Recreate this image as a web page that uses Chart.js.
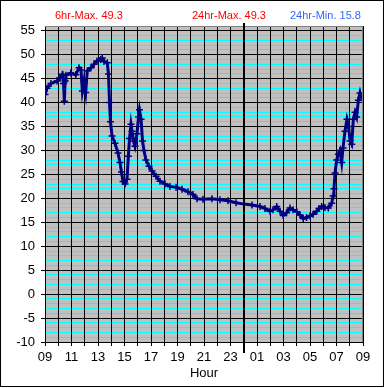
<!DOCTYPE html>
<html lang="en">
<head>
  <meta charset="UTF-8">
  <title>Hour chart</title>
  <style>
    body {
      margin: 0;
      padding: 0;
      background-color: #fff;
    }

    .wrap {
      position: relative;
      width: 385px;
      height: 388px;
      font-family: 'Liberation Sans', Arial, sans-serif;
    }

    .wrap canvas {
      position: absolute;
      left: 0;
      top: 0;
    }

    .frame {
      position: absolute;
      left: 0;
      top: 0;
      width: 382px;
      height: 385px;
      border: 1px solid #000;
      pointer-events: none;
    }

    .stat {
      position: absolute;
      top: 9px;
      font-size: 11px;
      line-height: 13px;
      white-space: nowrap;
    }
  </style>
</head>
<body>
  <div class="wrap">
    <canvas id="chart" width="385" height="388"></canvas>
    <div class="stat" style="left:55px;color:#ff0000">6hr-Max. 49.3</div>
    <div class="stat" style="left:192px;color:#ff0000">24hr-Max. 49.3</div>
    <div class="stat" style="left:290px;color:#3366ff">24hr-Min. 15.8</div>
    <div class="frame"></div>
  </div>

  <script src="https://cdn.jsdelivr.net/npm/chart.js"></script>
  <script>
    // hours since 09:00
    const hours = [0.00, 0.15, 0.45, 0.91, 1.13, 1.31, 1.40, 1.46, 1.52, 1.58,
      1.94, 2.32, 2.57, 2.72, 2.82, 2.94, 3.07, 3.19, 3.47, 3.70,
      3.92, 4.20, 4.32, 4.45, 4.70, 4.79, 4.87, 4.94, 5.06, 5.28,
      5.51, 5.66, 5.77, 5.89, 6.04, 6.19, 6.29, 6.38, 6.49, 6.57,
      6.68, 6.79, 6.94, 7.06, 7.13, 7.25, 7.36, 7.47, 7.62, 7.85,
      8.08, 8.38, 8.68, 9.06, 9.43, 9.89, 10.34, 10.79, 11.17, 11.47,
      11.92, 12.60, 13.21, 13.81, 14.42, 15.02, 15.62, 16.23, 16.60, 16.98,
      17.21, 17.49, 17.74, 17.98, 18.23, 18.49, 18.72, 19.00, 19.25, 19.49,
      19.74, 20.00, 20.23, 20.51, 20.68, 20.88, 21.13, 21.38, 21.64, 21.74,
      21.81, 21.89, 22.01, 22.14, 22.26, 22.39, 22.49, 22.64, 22.79, 22.91,
      23.02, 23.15, 23.27, 23.40, 23.52, 23.65, 23.77, 23.85];

    const temps = [41.7, 43.0, 44.0, 44.5, 45.2, 45.9, 44.0, 40.3, 44.5, 45.7,
      46.2, 45.8, 47.3, 46.8, 42.4, 44.5, 42.1, 46.6, 47.3, 48.0,
      48.7, 49.0, 49.3, 48.6, 48.3, 46.0, 40.0, 36.0, 33.0, 31.5,
      29.5, 27.5, 25.5, 23.5, 23.0, 24.0, 28.8, 32.5, 35.5, 34.0,
      32.0, 30.9, 33.5, 37.0, 38.5, 36.5, 32.0, 30.0, 28.0, 26.7,
      25.7, 24.6, 23.6, 23.0, 22.5, 22.3, 21.9, 21.4, 20.8, 19.9,
      19.8, 19.9, 19.7, 19.5, 19.1, 18.8, 18.6, 18.3, 17.9, 17.3,
      17.6, 18.3, 17.3, 16.4, 17.0, 18.0, 17.6, 17.2, 16.5, 15.8,
      16.0, 16.3, 16.7, 17.3, 17.9, 18.3, 18.1, 18.0, 19.0, 20.5,
      22.0, 25.3, 28.0, 29.2, 30.0, 27.5, 30.5, 34.0, 36.5, 35.0,
      32.0, 31.3, 36.5, 38.0, 37.0, 40.5, 42.0, 41.0];

    const startHour = 9;
    const midnight = 15; // 24 - startHour
    const yMin = -10;
    const yMax = 56;

    const font = { family: "'Liberation Sans', Arial, sans-serif", size: 13 };

    // grey plot background, grey top/right edge, thick midnight line
    const plotDecor = {
      id: 'plotDecor',
      beforeDraw(chart) {
        const { ctx, chartArea: a } = chart;
        ctx.save();
        ctx.fillStyle = '#c0c0c0';
        ctx.fillRect(a.left, a.top, a.right - a.left, a.bottom - a.top);
        ctx.restore();
      },
      afterDraw(chart) {
        const { ctx, chartArea: a } = chart;
        ctx.save();
        ctx.strokeStyle = '#808080';
        ctx.lineWidth = 1;
        ctx.beginPath();
        ctx.moveTo(a.left, a.top + 0.5);
        ctx.lineTo(a.right - 0.5, a.top + 0.5);
        ctx.lineTo(a.right - 0.5, a.bottom);
        ctx.stroke();
        const x = Math.round(chart.scales.x.getPixelForValue(midnight));
        ctx.fillStyle = '#000';
        ctx.fillRect(x - 1, a.top - 3, 2, a.bottom - a.top + 14);
        ctx.restore();
      }
    };

    const ctx = document.getElementById('chart').getContext('2d');
    const chart = new Chart(ctx, {
      type: 'line',
      data: {
        datasets: [{
          data: hours.map((h, i) => ({ x: h, y: temps[i] })),
          borderColor: '#000080',
          backgroundColor: '#000080',
          borderWidth: 3,
          pointStyle: 'cross',
          pointRadius: 3.5,
          pointBorderWidth: 1.5,
          pointBorderColor: '#000080',
          tension: 0,
          fill: false
        }]
      },
      options: {
        responsive: false,
        animation: false,
        devicePixelRatio: 1,
        layout: {
          padding: { top: 26, right: 22, left: 0, bottom: 0 }
        },
        plugins: {
          legend: { display: false },
          tooltip: { enabled: false }
        },
        scales: {
          y: {
            type: 'linear',
            min: yMin,
            max: yMax,
            afterFit: s => { s.width = 45; },
            border: { display: true, color: '#000', width: 1 },
            grid: {
              color: c => (c.tick.value % 5 === 0 ? '#000' : '#00ffff'),
              lineWidth: 1,
              tickLength: 4,
              tickColor: c => (c.tick.value % 5 === 0 ? '#000' : 'rgba(0,0,0,0)')
            },
            ticks: {
              stepSize: 1,
              autoSkip: false,
              padding: 6,
              color: '#000',
              font: font,
              callback: v => (v % 5 === 0 ? String(v) : '')
            }
          },
          x: {
            type: 'linear',
            min: 0,
            max: 24,
            afterFit: s => { s.height = 46; },
            border: { display: true, color: '#000', width: 1 },
            grid: {
              color: '#000',
              lineWidth: 1,
              tickLength: 4,
              tickColor: '#000'
            },
            ticks: {
              stepSize: 1,
              autoSkip: false,
              maxRotation: 0,
              padding: 4,
              color: '#000',
              font: font,
              callback: v => (v % 2 === 0 ? String((startHour + v) % 24).padStart(2, '0') : '')
            },
            title: {
              display: true,
              text: 'Hour',
              color: '#000',
              font: font,
              padding: { top: 0, bottom: 7 }
            }
          }
        }
      },
      plugins: [plotDecor]
    });
  </script>
</body>
</html>
